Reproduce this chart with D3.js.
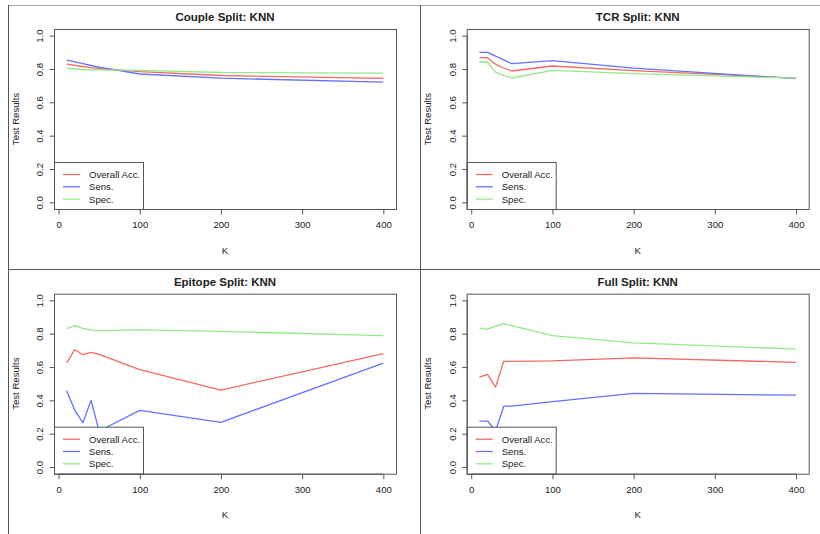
<!DOCTYPE html>
<html>
<head>
<meta charset="utf-8">
<script src="https://cdn.jsdelivr.net/npm/d3@7"></script>
<style>
  html, body { margin: 0; padding: 0; background: #fff; }
  svg { display: block; }
  text { font-family: "Liberation Sans", Arial, Helvetica, sans-serif; fill: #222; }
</style>
</head>
<body>
<svg id="chart" width="820" height="534"></svg>
<script>
// ---- data ----
const kValues = [10, 20, 30, 40, 50, 100, 200, 400];
const seriesNames = ["Overall Acc.", "Sens.", "Spec."];
const seriesColors = ["#f26a63", "#6672ff", "#94ea88"];
const yTicks = [0.0, 0.2, 0.4, 0.6, 0.8, 1.0];
const xTicks = [0, 100, 200, 300, 400];
const panelTitles = ["Couple Split: KNN", "TCR Split: KNN", "Epitope Split: KNN", "Full Split: KNN"];

const coupleAcc  = [0.829, 0.822, 0.815, 0.808, 0.803, 0.784, 0.761, 0.744];
const coupleSens = [0.853, 0.843, 0.832, 0.821, 0.811, 0.770, 0.745, 0.721];
const coupleSpec = [0.805, 0.800, 0.797, 0.795, 0.795, 0.792, 0.779, 0.775];

const tcrAcc  = [0.868, 0.868, 0.828, 0.806, 0.788, 0.818, 0.790, 0.745];
const tcrSens = [0.900, 0.900, 0.877, 0.855, 0.832, 0.850, 0.805, 0.742];
const tcrSpec = [0.842, 0.842, 0.780, 0.762, 0.746, 0.792, 0.772, 0.745];

const epiAcc  = [0.624, 0.704, 0.674, 0.688, 0.676, 0.584, 0.462, 0.680];
const epiSens = [0.458, 0.340, 0.266, 0.400, 0.216, 0.340, 0.268, 0.624];
const epiSpec = [0.830, 0.848, 0.832, 0.822, 0.818, 0.823, 0.814, 0.788];

const fullAcc  = [0.540, 0.556, 0.480, 0.634, 0.634, 0.637, 0.655, 0.628];
const fullSens = [0.276, 0.276, 0.218, 0.365, 0.365, 0.392, 0.442, 0.431];
const fullSpec = [0.834, 0.828, 0.844, 0.860, 0.849, 0.788, 0.745, 0.708];

const panelSeries = [
  [coupleAcc, coupleSens, coupleSpec],
  [tcrAcc, tcrSens, tcrSpec],
  [epiAcc, epiSens, epiSpec],
  [fullAcc, fullSens, fullSpec]
];

// ---- layout ----
const svg = d3.select("#chart");
const boxW = 342, boxH = 180;
const origins = [[54, 29], [466.7, 29], [54, 293.7], [466.7, 293.7]];

// frame lines
svg.append("line").attr("x1", 8).attr("x2", 820).attr("y1", 5.5).attr("y2", 5.5).attr("stroke", "#aaa").attr("stroke-width", 1);
svg.append("line").attr("x1", 8.5).attr("x2", 8.5).attr("y1", 5).attr("y2", 534).attr("stroke", "#555").attr("stroke-width", 1);
svg.append("line").attr("x1", 420.5).attr("x2", 420.5).attr("y1", 5).attr("y2", 534).attr("stroke", "#555").attr("stroke-width", 1);
svg.append("line").attr("x1", 8).attr("x2", 820).attr("y1", 269.5).attr("y2", 269.5).attr("stroke", "#555").attr("stroke-width", 1);

const xPad = (d3.max(kValues) - d3.min(kValues)) * 0.04;
const yPad = 0.04;

panelSeries.forEach((series, pi) => {
  const [ox, oy] = origins[pi];
  const g = svg.append("g");
  const x = d3.scaleLinear().domain([d3.min(kValues) - xPad, d3.max(kValues) + xPad]).range([ox, ox + boxW]);
  const y = d3.scaleLinear().domain([0 - yPad, 1 + yPad]).range([oy + boxH, oy]);

  // lines
  series.forEach((vals, si) => {
    const line = d3.line().x((d, i) => x(kValues[i])).y(d => y(d));
    g.append("path").datum(vals).attr("d", line)
      .attr("fill", "none").attr("stroke", seriesColors[si]).attr("stroke-width", 1.3)
      .attr("stroke-linejoin", "round");
  });

  // legend (opaque box)
  const legX = ox, legY = oy + 133, legW = 89, legH = boxH - 133;
  g.append("rect").attr("x", legX + 0.5).attr("y", legY + 0.5).attr("width", legW).attr("height", legH)
    .attr("fill", "#fff").attr("stroke", "#555").attr("stroke-width", 1);
  seriesNames.forEach((name, si) => {
    const ry = legY + 12.5 + si * 12.3;
    g.append("line").attr("x1", legX + 9).attr("x2", legX + 26).attr("y1", ry).attr("y2", ry)
      .attr("stroke", seriesColors[si]).attr("stroke-width", 1.3);
    g.append("text").attr("x", legX + 35).attr("y", ry + 3.4).attr("font-size", 9.6).text(name);
  });

  // box
  g.append("rect").attr("x", ox + 0.5).attr("y", oy + 0.5).attr("width", boxW).attr("height", boxH)
    .attr("fill", "none").attr("stroke", "#555").attr("stroke-width", 1);

  // x axis
  const xa = g.append("g").attr("transform", `translate(0,${oy + boxH + 0.5})`)
    .call(d3.axisBottom(x).tickValues(xTicks).tickSize(5).tickPadding(7).tickFormat(d3.format("d")));
  xa.select(".domain").attr("d", `M${x(0)},0H${x(400)}`).attr("stroke", "#555");
  xa.selectAll(".tick line").attr("stroke", "#555");
  xa.selectAll("text").attr("font-size", 9.6).attr("fill", "#222")
    .attr("font-family", "Liberation Sans, Arial, sans-serif");

  // y axis
  const ya = g.append("g").attr("transform", `translate(${ox + 0.5},0)`)
    .call(d3.axisLeft(y).tickValues(yTicks).tickSize(5).tickFormat(d3.format(".1f")));
  ya.select(".domain").attr("d", `M0,${y(0)}V${y(1)}`).attr("stroke", "#555");
  ya.selectAll(".tick line").attr("stroke", "#555");
  ya.selectAll(".tick text")
    .attr("x", null).attr("dy", null)
    .attr("text-anchor", "middle")
    .attr("font-size", 9.6).attr("fill", "#222")
    .attr("font-family", "Liberation Sans, Arial, sans-serif")
    .attr("transform", "translate(-11.5,0) rotate(-90)");

  // title
  g.append("text").attr("x", ox + boxW / 2).attr("y", oy - 7.6).attr("text-anchor", "middle")
    .attr("font-size", 11.5).attr("font-weight", "bold").attr("fill", "#000").text(panelTitles[pi]);

  // axis titles
  g.append("text").attr("x", ox + boxW / 2).attr("y", oy + boxH + 44.7).attr("text-anchor", "middle")
    .attr("font-size", 9.6).text("K");
  g.append("text").attr("transform", `translate(${ox - 35.5},${oy + boxH / 2}) rotate(-90)`)
    .attr("text-anchor", "middle").attr("font-size", 9.6).text("Test Results");
});
</script>
</body>
</html>
